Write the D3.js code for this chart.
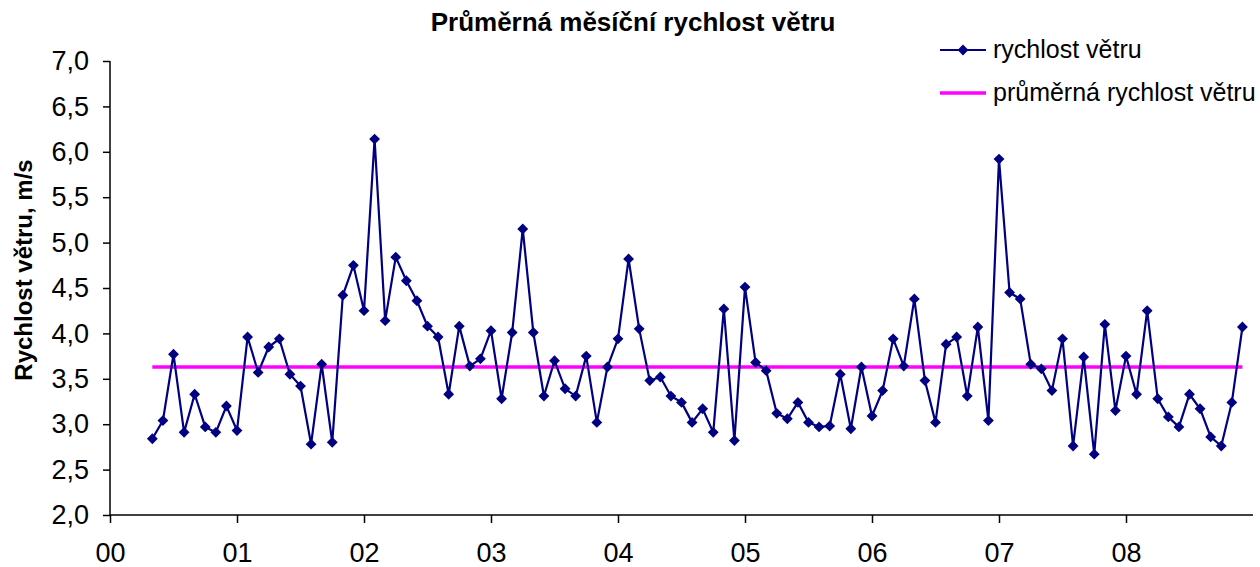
<!DOCTYPE html>
<html lang="cs">
<head>
    <meta charset="UTF-8">
    <title>Průměrná měsíční rychlost větru</title>
    <style>
        body { margin: 0; background: #fff; }
        svg { font-family: "Liberation Sans", Arial, sans-serif; }
    </style>
</head>
<body>
<script src="https://d3js.org/d3.v7.min.js"></script>
<script>
    // monthly wind speed, m/s (first value = month 4 of year 00)
    const speeds = [
        2.84, 3.04, 3.77, 2.91, 3.33, 2.97, 2.91, 3.20, 2.93, 3.96, 3.57, 3.85,
        3.94, 3.55, 3.42, 2.78, 3.66, 2.80, 4.42, 4.75, 4.25, 6.14, 4.14, 4.84,
        4.58, 4.36, 4.08, 3.96, 3.33, 4.08, 3.64, 3.72, 4.03, 3.28, 4.01, 5.15,
        4.01, 3.31, 3.70, 3.39, 3.31, 3.75, 3.02, 3.63, 3.94, 4.82, 4.05, 3.48,
        3.52, 3.31, 3.24, 3.02, 3.17, 2.91, 4.27, 2.82, 4.51, 3.68, 3.59, 3.12,
        3.06, 3.24, 3.02, 2.97, 2.98, 3.55, 2.95, 3.63, 3.09, 3.37, 3.94, 3.64,
        4.38, 3.48, 3.02, 3.88, 3.96, 3.31, 4.07, 3.04, 5.92, 4.45, 4.38, 3.66,
        3.61, 3.37, 3.94, 2.76, 3.74, 2.67, 4.10, 3.15, 3.75, 3.33, 4.25, 3.28,
        3.08, 2.97, 3.33, 3.17, 2.86, 2.76, 3.24, 4.07
    ];
    const firstMonth = 4;
    const averageSpeed = 3.63;
    const yearLabels = ["00", "01", "02", "03", "04", "05", "06", "07", "08"];
    const yTicks = [2.0, 2.5, 3.0, 3.5, 4.0, 4.5, 5.0, 5.5, 6.0, 6.5, 7.0];
    const legendLabels = ["rychlost větru", "průměrná rychlost větru"];

    const width = 1260, height = 567;
    const navy = "#000080", magenta = "#ff00ff";

    const svg = d3.select("body").append("svg")
        .attr("width", width)
        .attr("height", height);

    const x = d3.scaleLinear().domain([0, 108]).range([110, 1253]);
    const y = d3.scaleLinear().domain([2, 7]).range([515, 61]);

    const points = speeds.map((v, i) => ({month: firstMonth + i, value: v}));

    // title
    svg.append("text")
        .attr("x", 633)
        .attr("y", 31)
        .attr("text-anchor", "middle")
        .attr("font-size", 26)
        .attr("font-weight", "bold")
        .text("Průměrná měsíční rychlost větru");

    // y axis
    const yAxis = svg.append("g")
        .attr("transform", `translate(${x(0)},0)`)
        .call(d3.axisLeft(y).tickValues(yTicks).tickSize(7).tickPadding(14)
            .tickFormat(d => d3.format(".1f")(d).replace(".", ",")));
    yAxis.selectAll("text").attr("font-size", 27).attr("fill", "#000")
        .attr("font-family", "Liberation Sans, Arial, sans-serif");
    yAxis.selectAll("line, path").attr("stroke", "#000").attr("stroke-width", 1.5);
    yAxis.select(".domain").attr("d", `M0,${y(7)}V${y(2)}`);

    // x axis
    const xAxis = svg.append("g")
        .attr("transform", `translate(0,${y(2)})`)
        .call(d3.axisBottom(x).tickValues(yearLabels.map((d, i) => i * 12))
            .tickSize(8).tickPadding(20).tickFormat((d, i) => yearLabels[i]));
    xAxis.selectAll("text").attr("font-size", 27).attr("fill", "#000")
        .attr("font-family", "Liberation Sans, Arial, sans-serif");
    xAxis.selectAll("line, path").attr("stroke", "#000").attr("stroke-width", 1.5);
    xAxis.select(".domain").attr("d", `M${x(0)},0H${x(108)}`);

    // y axis title
    svg.append("text")
        .attr("transform", "translate(32,270) rotate(-90)")
        .attr("text-anchor", "middle")
        .attr("font-size", 24)
        .attr("font-weight", "bold")
        .text("Rychlost větru, m/s");

    // average line
    svg.append("line")
        .attr("x1", x(points[0].month))
        .attr("x2", x(points[points.length - 1].month))
        .attr("y1", y(averageSpeed))
        .attr("y2", y(averageSpeed))
        .attr("stroke", magenta)
        .attr("stroke-width", 3.5);

    // wind speed series
    const line = d3.line().x(d => x(d.month)).y(d => y(d.value));
    svg.append("path")
        .datum(points)
        .attr("d", line)
        .attr("fill", "none")
        .attr("stroke", navy)
        .attr("stroke-width", 2.2);

    const diamond = d3.symbol().type(d3.symbolDiamond2).size(75);
    svg.append("g").selectAll("path")
        .data(points)
        .join("path")
        .attr("d", diamond)
        .attr("transform", d => `translate(${x(d.month)},${y(d.value)})`)
        .attr("fill", navy);

    // legend
    const legend = svg.append("g");
    legend.append("line")
        .attr("x1", 940).attr("x2", 986).attr("y1", 50).attr("y2", 50)
        .attr("stroke", navy).attr("stroke-width", 2);
    legend.append("path")
        .attr("d", diamond)
        .attr("transform", "translate(963,50)")
        .attr("fill", navy);
    legend.append("line")
        .attr("x1", 940).attr("x2", 986).attr("y1", 93).attr("y2", 93)
        .attr("stroke", magenta).attr("stroke-width", 3.5);
    legend.selectAll("text")
        .data(legendLabels)
        .join("text")
        .attr("x", 993)
        .attr("y", (d, i) => 58 + i * 43)
        .attr("font-size", 25)
        .text(d => d);
</script>
</body>
</html>
